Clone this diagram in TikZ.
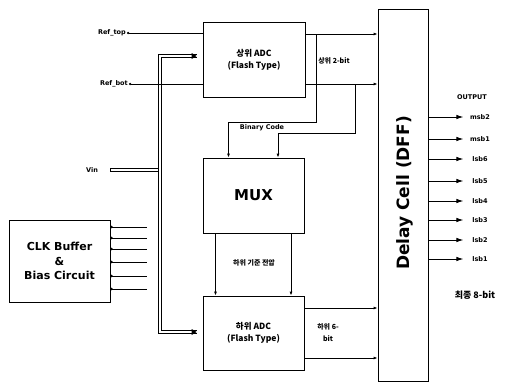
\documentclass[tikz,border=0pt]{standalone}
\usepackage{fontspec}
\setmainfont{DejaVu Sans}
\newfontfamily\kr{Noto Sans CJK KR}
\usetikzlibrary{arrows.meta, positioning}
\tikzset{
  blockbox/.style={draw, line width=0.8pt, minimum width=101pt, minimum height=75pt,
    align=center, inner sep=1pt, font=\kr\bfseries\fontsize{8.5}{12}\selectfont},
  lbltext/.style={font=\bfseries\fontsize{6.5}{8}\selectfont, inner sep=1pt},
  krtext/.style={font=\kr\bfseries\fontsize{7}{12}\selectfont, align=center, inner sep=1pt},
  sigline/.style={line width=0.8pt, -{Latex[length=4pt,width=3pt]}},
  outarrow/.style={line width=0.9pt, -{Latex[length=7pt,width=4.5pt]}},
  dotline/.style={line width=0.8pt, {Circle[length=2.2pt]}-},
  busedge/.style={line width=0.7pt}
}
\begin{document}
\begin{tikzpicture}[x=1pt, y=-1pt]
  \useasboundingbox (0,0) rectangle (509,383);
  % blocks
  \node[blockbox, minimum height=75pt, minimum width=102pt] (upadc) at (254,59.5) {상위 ADC\\(Flash Type)};
  \node[blockbox, font=\bfseries\fontsize{15}{18}\selectfont] (mux) at (253.5,195.5) {MUX};
  \node[blockbox, minimum height=74pt] (lowadc) at (253.5,333) {하위 ADC\\(Flash Type)};
  \node[blockbox, minimum width=50pt, minimum height=372pt] (dff) at (403,195) {};
  \node[rotate=90, font=\bfseries\fontsize{17}{20}\selectfont] (dfftext) at (405,193) {Delay Cell (DFF)};
  \node[blockbox, minimum height=82pt, font=\bfseries\fontsize{11}{14.5}\selectfont] (clk) at (59.5,261) {CLK Buffer\\\&\\Bias Circuit};

  % input labels
  \node[lbltext, anchor=east] (reftop) at (127,33) {Ref\_top};
  \node[lbltext, anchor=east] (refbot) at (129,84) {Ref\_bot};
  \node[lbltext] (vin) at (92,170) {Vin};
  \coordinate (vinend) at (110,170);
  \coordinate (upin) at ([xshift=-6pt]upadc.west |- 0,56);
  \coordinate (lowin) at ([xshift=-6pt]lowadc.west |- 0,332);

  % analog bus (double line)
  \draw[busedge] (upin |- 0,54.5) -- (158,54.5) -- (158,333.5) -- (lowin |- 0,333.5);
  \draw[busedge] (upin |- 0,57.5) -- (161,57.5) -- (161,330.5) -- (lowin |- 0,330.5);
  \draw[busedge] (158,168.5) -- (vinend |- 0,168.5) -- (vinend |- 0,171.5) -- (158,171.5);
  \fill (upin) -- ++(-5,-3) -- ++(0,6) -- cycle;
  \fill (lowin) -- ++(-5,-3) -- ++(0,6) -- cycle;

  % references
  \draw[dotline] (reftop.east) -- (upadc.west |- reftop.east);
  \draw[dotline] (refbot.east) -- (upadc.west |- refbot.east);

  % clock and bias lines
  \foreach \yy in {227,238,249,262,276,289}{
    \draw[dotline] (clk.east |- 0,\yy) -- (147,\yy);
  }

  % upper ADC outputs
  \draw[sigline] (upadc.east |- 0,34) -- (dff.west |- 0,34);
  \draw[sigline] (upadc.east |- 0,84) -- (dff.west |- 0,84);
  \node[krtext] (uplbl) at (334,61) {상위 2-bit};
  \coordinate (tapa) at (316,34);
  \coordinate (tapb) at (355,84);
  \draw[sigline] (tapa) -- (tapa |- 0,122) -| ([xshift=-25pt]mux.north);
  \draw[sigline] (tapb) -- (tapb |- 0,133) -| ([xshift=24.5pt]mux.north);
  \node[lbltext] (binlbl) at (262,128) {Binary Code};

  % reference voltage for lower ADC
  \draw[sigline] ([xshift=-38pt]mux.south) -- ([xshift=-38pt]lowadc.north);
  \draw[sigline] ([xshift=37.5pt]mux.south) -- ([xshift=37.5pt]lowadc.north);
  \node[krtext] (reflbl) at (254,263) {하위 기준 전압};

  % lower ADC outputs
  \draw[sigline] (lowadc.east |- 0,308) -- (dff.west |- 0,308);
  \draw[sigline] (lowadc.east |- 0,358) -- (dff.west |- 0,358);
  \node[krtext] (lowlbl) at (328,333) {하위 6-\\bit};

  % outputs
  \node[lbltext] (outlbl) at (472,97) {OUTPUT};
  \foreach \lab/\yy in {msb2/117, msb1/139, lsb6/159, lsb5/181, lsb4/201, lsb3/220, lsb2/240, lsb1/259}{
    \node[lbltext] (o\lab) at (480,\yy) {\lab};
    \draw[outarrow] (dff.east |- o\lab) -- ++(35,0);
  }
  \node[font=\kr\bfseries\fontsize{9}{11}\selectfont] (finlbl) at (475,295) {최종 8-bit};
\end{tikzpicture}
\end{document}
